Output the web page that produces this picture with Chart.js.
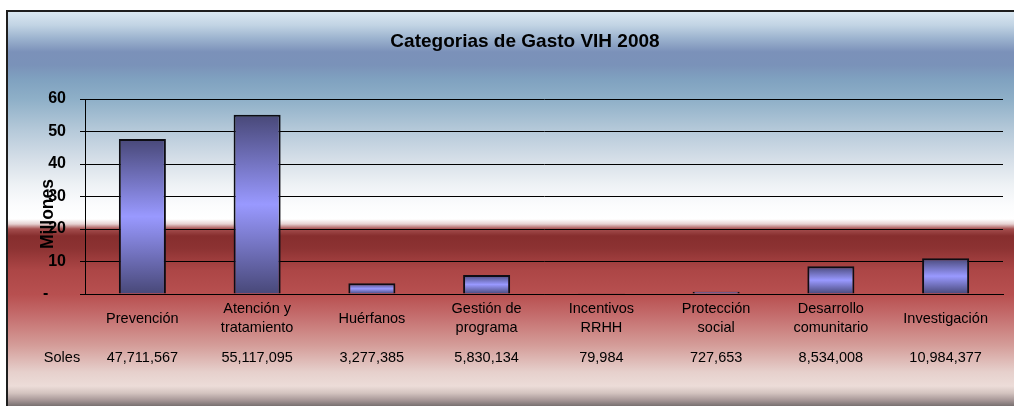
<!DOCTYPE html>
<html>
<head>
<meta charset="utf-8">
<script src="https://cdn.jsdelivr.net/npm/chart.js@4/dist/chart.umd.min.js"></script>
<style>
  html, body { margin: 0; padding: 0; background: #ffffff; }
  #wrap { width: 1014px; height: 406px; position: relative; }
  canvas { display: block; }
</style>
</head>
<body>
<div id="wrap"><canvas id="c" width="1014" height="406"></canvas></div>
<script>
// ---- data ----
const chartTitle = 'Categorias de Gasto VIH 2008';
const yAxisTitle = 'Millones';
const tableRowLabel = 'Soles';
const categories = [
  ['Prevención'],
  ['Atención y', 'tratamiento'],
  ['Huérfanos'],
  ['Gestión de', 'programa'],
  ['Incentivos', 'RRHH'],
  ['Protección', 'social'],
  ['Desarrollo', 'comunitario'],
  ['Investigación']
];
const soles = [47711567, 55117095, 3277385, 5830134, 79984, 727653, 8534008, 10984377];
const millones = soles.map(v => v / 1e6);
const yTickValues = [0, 10, 20, 30, 40, 50, 60];
const zeroTickLabel = '-    ';

const FONT = '"Liberation Sans", Arial, sans-serif';

const bgPlugin = {
  id: 'bg',
  beforeDraw(chart) {
    const c = chart.ctx;
    const W = chart.width, H = chart.height;
    c.save();
    c.fillStyle = '#ffffff';
    c.fillRect(0, 0, W, H);
    const top = 11, bottom = H;
    const stops = [
      [12,'#dae7f1'],[25,'#c2d4e4'],[38,'#9db4cf'],[52,'#7b91b9'],[65,'#7a92b9'],
      [80,'#80a2c0'],[100,'#8fb0c8'],[130,'#b5c9d9'],[160,'#d6dfe8'],[185,'#eef2f5'],
      [205,'#fbfcfd'],[219,'#ffffff'],[224,'#e6d2d2'],[229,'#a44e4e'],[236,'#862e2e'],
      [248,'#8c3232'],[270,'#ac4646'],[295,'#b85050'],[315,'#c46c6c'],[345,'#d49c98'],
      [372,'#e6d0cc'],[386,'#ecdcd8'],[393,'#d4c4c0'],[400,'#a89898'],[406,'#787070']
    ];
    const g = c.createLinearGradient(0, top, 0, bottom);
    stops.forEach(([y, col]) => g.addColorStop(Math.min(1, Math.max(0, (y - top) / (bottom - top))), col));
    c.fillStyle = g;
    c.fillRect(7, top, W - 7, bottom - top);
    c.fillStyle = '#1e1e1e';
    c.fillRect(6, 10, W - 6, 2);
    c.fillRect(6, 10, 2, H - 10);
    c.restore();
  },
  afterDraw(chart) {
    const c = chart.ctx;
    const xs = chart.scales.x;
    c.save();
    c.fillStyle = '#000000';
    // title
    c.font = 'bold 19px ' + FONT;
    c.textAlign = 'center';
    c.textBaseline = 'alphabetic';
    c.fillText(chartTitle, 525, 47);
    // y axis title (rotated)
    c.save();
    c.translate(53, 214);
    c.rotate(-Math.PI / 2);
    c.font = 'bold 17.5px ' + FONT;
    c.textAlign = 'center';
    c.textBaseline = 'alphabetic';
    c.fillText(yAxisTitle, 0, 0);
    c.restore();
    // category labels and data table
    c.font = '14.5px ' + FONT;
    c.textAlign = 'center';
    c.textBaseline = 'alphabetic';
    categories.forEach((lines, i) => {
      const x = xs.getPixelForValue(i);
      if (lines.length === 1) {
        c.fillText(lines[0], x, 322.5);
      } else {
        c.fillText(lines[0], x, 312.5);
        c.fillText(lines[1], x, 332);
      }
      c.fillText(soles[i].toLocaleString('en-US'), x, 362);
    });
    c.fillText(tableRowLabel, 62, 362);
    c.restore();
  }
};

function barGradient(ctx) {
  const chart = ctx.chart;
  const ys = chart.scales && chart.scales.y;
  if (!chart.chartArea || !ys || ctx.type !== 'data') return '#8a8ae6';
  const v = ctx.parsed ? ctx.parsed.y : ctx.raw;
  const topPx = ys.getPixelForValue(v);
  const basePx = ys.getPixelForValue(0);
  if (Math.abs(basePx - topPx) < 1) return '#6a6ab0';
  const g = chart.ctx.createLinearGradient(0, topPx, 0, basePx);
  g.addColorStop(0, '#484878');
  g.addColorStop(0.5, '#9999ff');
  g.addColorStop(1, '#484878');
  return g;
}

new Chart(document.getElementById('c'), {
  type: 'bar',
  data: {
    labels: categories.map(l => l.join(' ')),
    datasets: [{
      label: tableRowLabel,
      data: millones,
      backgroundColor: barGradient,
      borderColor: '#0d0d14',
      borderWidth: 2,
      barPercentage: 0.41,
      categoryPercentage: 1.0
    }]
  },
  options: {
    responsive: false,
    animation: false,
    devicePixelRatio: 1,
    layout: { padding: { top: 99, right: 11, bottom: 0, left: 0 } },
    plugins: {
      legend: { display: false },
      title: { display: false },
      tooltip: { enabled: false }
    },
    scales: {
      x: {
        ticks: { display: false },
        grid: { display: false },
        border: { display: true, color: '#000000', width: 1 },
        afterFit: s => { s.height = 112; }
      },
      y: {
        min: 0,
        max: 60,
        afterBuildTicks: s => { s.ticks = yTickValues.map(v => ({ value: v })); },
        ticks: {
          padding: 14,
          color: '#000000',
          font: { family: FONT, size: 16, weight: 'bold' },
          callback: v => (v === 0 ? zeroTickLabel : String(v))
        },
        grid: { color: '#000000', lineWidth: 1, drawTicks: true, tickLength: 5, tickColor: '#000000' },
        border: { display: true, color: '#000000', width: 1 },
        afterFit: s => { s.width = 85; }
      }
    }
  },
  plugins: [bgPlugin]
});
</script>
</body>
</html>
